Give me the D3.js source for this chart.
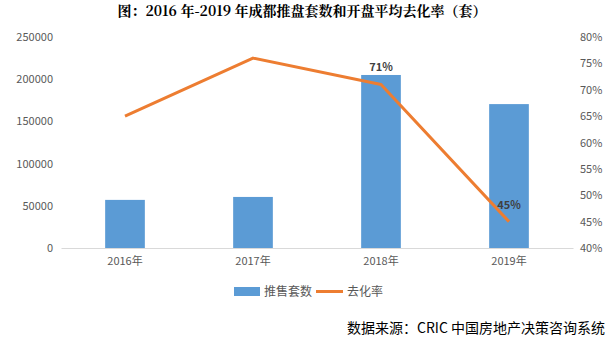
<!DOCTYPE html>
<html><head><meta charset="utf-8">
<script src="https://cdn.jsdelivr.net/npm/d3@7"></script>
<style>body{margin:0;background:#fff}svg{display:block}</style>
</head><body>
<svg id="c" width="614" height="343"></svg>
<script>
const categories = ["2016年","2017年","2018年","2019年"];
const units = [57000, 60500, 205000, 170500];
const rates = [65, 76, 71, 45];
const rateLabels = [null, null, "71%", "45%"];
const leftTicks = [0,50000,100000,150000,200000,250000];
const rightTicks = [40,45,50,55,60,65,70,75,80];
const title = "图：2016 年-2019 年成都推盘套数和开盘平均去化率（套）";
const source = "数据来源：CRIC 中国房地产决策咨询系统";

const svg = d3.select("#c");
const font = "'Microsoft YaHei','Noto Sans CJK SC',sans-serif";
const x = d3.scaleBand().domain(categories).range([61,573]).paddingInner(0.69).paddingOuter(0.345);
const y = d3.scaleLinear().domain([0,250000]).range([248,37]);
const y2 = d3.scaleLinear().domain([40,80]).range([248,37]);

svg.append("text").attr("x",302).attr("y",16).attr("text-anchor","middle")
  .attr("font-family","'Noto Serif CJK SC','Noto Sans CJK SC',serif").attr("font-weight","bold")
  .attr("font-size",14).attr("fill","#000").text(title);

// left axis
const la = svg.append("g").attr("transform","translate(58,0)")
  .call(d3.axisLeft(y).tickValues(leftTicks).tickSize(0).tickPadding(5).tickFormat(d3.format("d")));
la.select(".domain").remove();
la.selectAll("text").attr("font-family",font).attr("font-size",11).attr("fill","#595959");

// right axis
const ra = svg.append("g").attr("transform","translate(578,0)")
  .call(d3.axisRight(y2).tickValues(rightTicks).tickSize(0).tickPadding(2).tickFormat(d=>d+"%"));
ra.select(".domain").remove();
ra.selectAll("text").attr("font-family",font).attr("font-size",11).attr("fill","#595959");

// bars
svg.append("g").selectAll("rect").data(units).join("rect")
  .attr("x",(d,i)=>x(categories[i])).attr("width",x.bandwidth())
  .attr("y",d=>y(d)).attr("height",d=>y(0)-y(d)).attr("fill","#5B9BD5");

// baseline
const xa = svg.append("g").attr("transform","translate(0,248)")
  .call(d3.axisBottom(x).tickSize(0).tickPadding(9));
xa.select(".domain").attr("stroke","#D9D9D9").attr("stroke-width",1);
xa.selectAll("text").attr("font-family",font).attr("font-size",11).attr("fill","#595959");

// line
const line = d3.line().x((d,i)=>x(categories[i])+x.bandwidth()/2).y(d=>y2(d));
svg.append("path").datum(rates).attr("d",line).attr("fill","none")
  .attr("stroke","#ED7D31").attr("stroke-width",3).attr("stroke-linejoin","round");

// labels
svg.append("g").selectAll("text").data(rates).join("text")
  .filter((d,i)=>rateLabels[i])
  .attr("x",(d,i)=>x(categories[rates.indexOf(d)])+x.bandwidth()/2)
  .attr("y",d=>y2(d)-13).attr("text-anchor","middle")
  .attr("font-family",font).attr("font-size",11).attr("font-weight","bold").attr("fill","#404040")
  .text(d=>d+"%");

// legend
const lg = svg.append("g").attr("font-family",font).attr("font-size",12).attr("fill","#595959");
lg.append("rect").attr("x",234).attr("y",287).attr("width",26).attr("height",9).attr("fill","#5B9BD5");
lg.append("text").attr("x",264).attr("y",296).text("推售套数");
lg.append("line").attr("x1",316).attr("x2",343).attr("y1",291.5).attr("y2",291.5).attr("stroke","#ED7D31").attr("stroke-width",3);
lg.append("text").attr("x",347).attr("y",296).text("去化率");

svg.append("text").attr("x",605).attr("y",333).attr("text-anchor","end")
  .attr("font-family","'Noto Sans CJK SC',sans-serif").attr("font-size",14).attr("fill","#000").text(source);
</script>
</body></html>
